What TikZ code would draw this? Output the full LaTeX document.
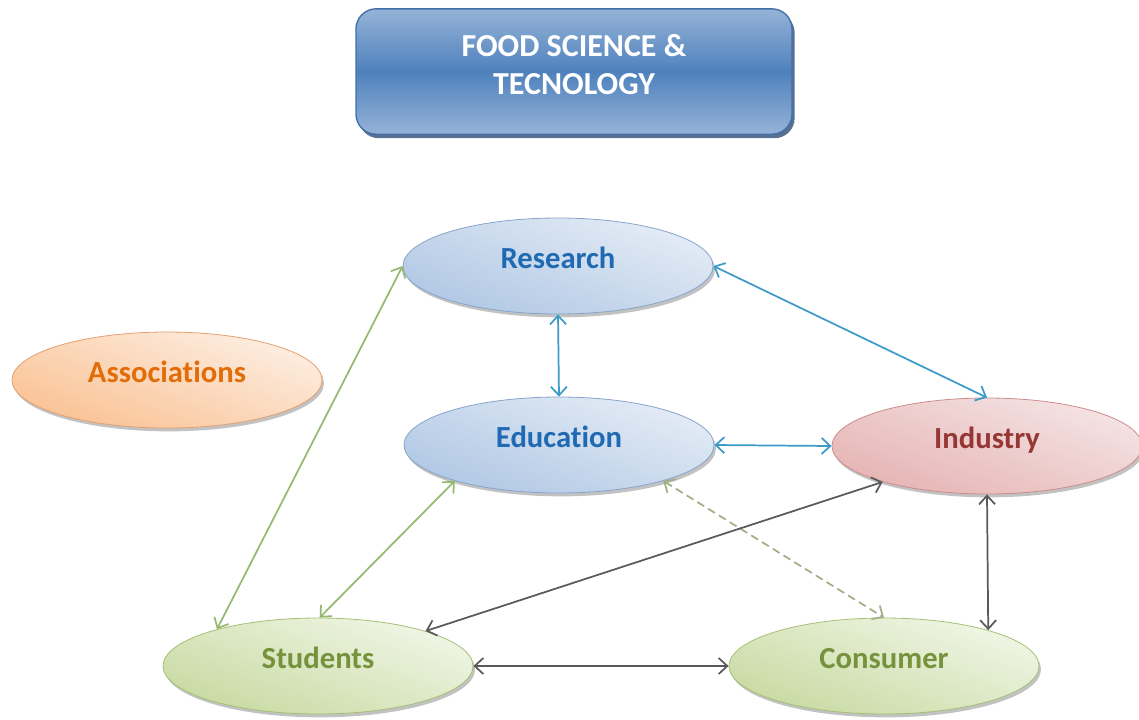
\documentclass[tikz,border=0pt]{standalone}
\usepackage{fontspec}
\setmainfont{Carlito}[Ligatures=NoCommon]
\usetikzlibrary{shapes.geometric,shadows,arrows.meta}

\definecolor{titlelight}{RGB}{149,179,215}
\definecolor{titledark}{RGB}{79,129,189}
\definecolor{titleline}{RGB}{66,110,168}
\definecolor{bluetop}{RGB}{228,236,246}
\definecolor{bluebot}{RGB}{176,199,228}
\definecolor{blueline}{RGB}{135,164,202}
\definecolor{bluetext}{RGB}{31,106,178}
\definecolor{orangetop}{RGB}{253,238,226}
\definecolor{orangebot}{RGB}{250,194,148}
\definecolor{orangeline}{RGB}{228,160,112}
\definecolor{orangetext}{RGB}{227,108,9}
\definecolor{redtop}{RGB}{245,228,228}
\definecolor{redbot}{RGB}{230,180,180}
\definecolor{redline}{RGB}{205,140,140}
\definecolor{redtext}{RGB}{149,55,53}
\definecolor{greentop}{RGB}{240,246,230}
\definecolor{greenbot}{RGB}{200,218,162}
\definecolor{greenline}{RGB}{165,192,118}
\definecolor{greentext}{RGB}{118,146,60}
\definecolor{tealarrow}{RGB}{60,155,200}
\definecolor{greenarrow}{RGB}{150,185,112}
\definecolor{dasharrow}{RGB}{160,176,134}
\definecolor{greyarrow}{RGB}{89,89,89}

\tikzset{
  bubble/.style={ellipse, draw, line width=0.6pt, minimum width=232.5pt, minimum height=72pt,
    inner sep=0pt, font=\fontsize{23}{27}\selectfont\bfseries, text height=16pt, text depth=12.5pt,
    drop shadow={shadow xshift=1.5pt, shadow yshift=-2.5pt, opacity=0.4, fill=black!60}},
  bluebub/.style={draw=blueline, top color=bluetop, bottom color=bluebot, shading angle=-20, text=bluetext},
  orangebub/.style={draw=orangeline, top color=orangetop, bottom color=orangebot, shading angle=-20, text=orangetext},
  redbub/.style={draw=redline, top color=redtop, bottom color=redbot, shading angle=-20, text=redtext},
  greenbub/.style={draw=greenline, top color=greentop, bottom color=greenbot, shading angle=-20, text=greentext},
  titlebox/.style={rectangle, rounded corners=15pt, draw=titleline, line width=1pt,
    top color=titlelight, bottom color=titlelight, middle color=titledark,
    minimum width=327pt, minimum height=94pt,
    drop shadow={shadow xshift=2pt, shadow yshift=-3pt, opacity=0.8, fill=titleline!70!black}},
  titletext/.style={align=center, text=white, inner sep=0pt, font=\fontsize{24}{28.5}\selectfont\bfseries},
  link/.style={line width=1.3pt, {Straight Barb[length=6.5pt,width=12pt]}-{Straight Barb[length=6.5pt,width=12pt]}},
  bluelink/.style={link, color=tealarrow},
  greenlink/.style={link, color=greenarrow},
  greylink/.style={link, color=greyarrow}
}

\begin{document}
\begin{tikzpicture}[x=0.75pt,y=0.75pt,yscale=-1,xscale=1]
\useasboundingbox (0,0) rectangle (1139,719);
\clip (0,0) rectangle (1139,719);

%Shape: Rounded Rect
\node [titlebox] (fst) at (574,71.5) {};
% Text Node
\node [titletext] (fsttxt) at (574,65) {FOOD SCIENCE \&\\TECNOLOGY};

%Shape: Ellipse
\node [bubble, bluebub] (res) at (558,266) {Research};
%Shape: Ellipse
\node [bubble, bluebub] (edu) at (559,445) {Education};
%Shape: Ellipse
\node [bubble, orangebub] (ass) at (167,380) {Associations};
%Shape: Ellipse
\node [bubble, redbub] (ind) at (987,446) {Industry};
%Shape: Ellipse
\node [bubble, greenbub] (stu) at (318,666) {Students};
%Shape: Ellipse
\node [bubble, greenbub] (con) at (884,666) {Consumer};

%Straight Lines
\draw [bluelink] (res.south) -- (edu.north);
%Straight Lines
\draw [bluelink] (res.east) -- (ind.north);
%Straight Lines
\draw [bluelink] (edu.east) -- (ind.west);
%Straight Lines
\draw [greenlink] (stu.160) -- (res.west);
%Straight Lines
\draw [greenlink] (stu.88) -- (edu.199);
%Straight Lines
\draw [link, color=dasharrow, dash pattern=on 6pt off 3.5pt] (edu.-19) -- (con.north);
%Straight Lines
\draw [greylink] (stu.18) -- (ind.199);
%Straight Lines
\draw [greylink] (ind.south) -- (con.19);
%Straight Lines
\draw [greylink] (stu.east) -- (con.west);

\end{tikzpicture}
\end{document}
